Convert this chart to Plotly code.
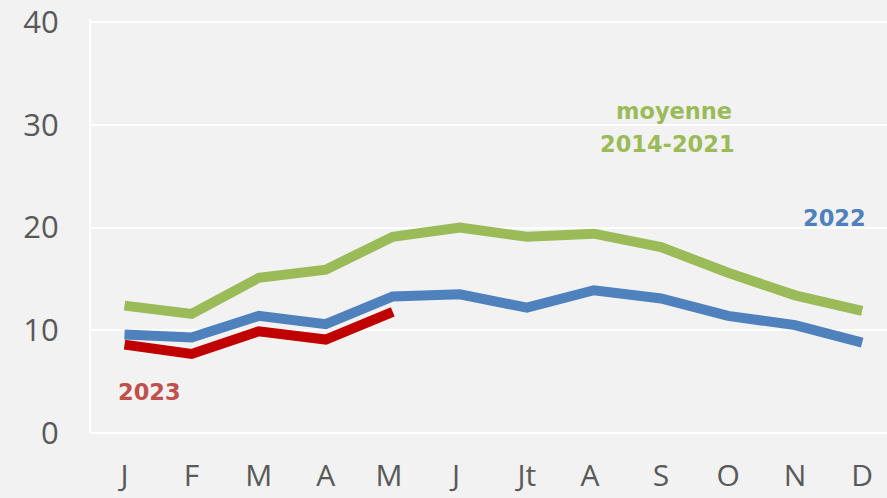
import plotly.graph_objects as go

months = ["J", "F", "M", "A", "M ", "J ", "Jt", "A ", "S", "O", "N", "D"]
avg_2014_2021 = [12.4, 11.6, 15.1, 15.9, 19.1, 20.0, 19.1, 19.4, 18.1, 15.6, 13.4, 11.9]
y2022 = [9.6, 9.3, 11.4, 10.6, 13.3, 13.5, 12.2, 13.9, 13.1, 11.4, 10.5, 8.8]
y2023 = [8.6, 7.7, 9.9, 9.1, 11.8]

GREEN = "#9BBB59"
BLUE = "#4F81BD"
RED = "#C00000"

fig = go.Figure()
fig.add_trace(go.Scatter(x=months, y=avg_2014_2021, mode="lines",
                         line=dict(color=GREEN, width=10)))
fig.add_trace(go.Scatter(x=months, y=y2022, mode="lines",
                         line=dict(color=BLUE, width=10)))
fig.add_trace(go.Scatter(x=months[:len(y2023)], y=y2023, mode="lines",
                         line=dict(color=RED, width=10)))

# series labels placed in data coordinates
label_font = dict(family="DejaVu Sans, sans-serif", size=22.5)
fig.add_annotation(x=8.2, y=31.3, text="<b>moyenne</b>", showarrow=False,
                   font=dict(color=GREEN, **label_font), xanchor="center")
fig.add_annotation(x=8.1, y=28.1, text="<b>2014-2021</b>", showarrow=False,
                   font=dict(color=GREEN, **label_font), xanchor="center")
fig.add_annotation(x=10.58, y=20.9, text="<b>2022</b>", showarrow=False,
                   font=dict(color=BLUE, **label_font), xanchor="center")
fig.add_annotation(x=0.37, y=4.0, text="<b>2023</b>", showarrow=False,
                   font=dict(color="#C0504D", **label_font), xanchor="center")

fig.update_layout(
    width=887, height=498,
    margin=dict(l=91, r=0, t=18, b=65),
    paper_bgcolor="#F2F2F2",
    plot_bgcolor="#F2F2F2",
    showlegend=False,
    font=dict(family="Open Sans, sans-serif", color="#595959", size=30),
    xaxis=dict(type="category", range=[-0.5, 11.37], showgrid=False,
               showline=False, zeroline=False, ticks="", ticklabelstandoff=22,
               tickfont=dict(size=30), automargin=False,
               ticklabeloverflow="allow"),
    yaxis=dict(range=[0, 40.4], tickvals=[0, 10, 20, 30, 40], showgrid=True,
               gridcolor="white", gridwidth=2, zeroline=True,
               zerolinecolor="white", zerolinewidth=2, showline=True,
               linecolor="white", linewidth=2, ticks="",
               ticklabelstandoff=24, tickfont=dict(size=31), automargin=False,
               ticklabeloverflow="allow"),
)

fig.write_html("out.html",
               config={"displayModeBar": False},
               post_script="document.body.style.margin='0';"
                           "document.body.style.background='#F2F2F2';")
